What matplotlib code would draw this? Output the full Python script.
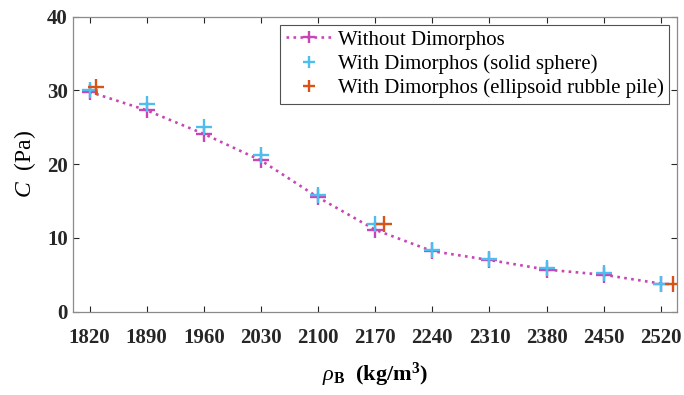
import numpy as np
import matplotlib
matplotlib.use("Agg")
import matplotlib.pyplot as plt

plt.rcParams['font.family'] = ['Liberation Serif', 'DejaVu Serif']
plt.rcParams['mathtext.fontset'] = 'custom'
plt.rcParams['mathtext.rm'] = 'Liberation Serif'
plt.rcParams['mathtext.it'] = 'Liberation Serif:italic'
plt.rcParams['mathtext.bf'] = 'Liberation Serif:bold'

# densite de Didymos (kg/m3)
rho = [1820, 1890, 1960, 2030, 2100, 2170, 2240, 2310, 2380, 2450, 2520]
# cohesion sans Dimorphos (Pa)
C_sans = [29.8, 27.3, 24.1, 20.5, 15.5, 11.1, 8.2, 7.0, 5.7, 5.0, 3.8]
# avec Dimorphos, sphere solide
C_sphere = [30.1, 28.1, 25.0, 21.3, 15.8, 11.95, 8.3, 7.1, 5.9, 5.2, 3.8]
# avec Dimorphos, ellipsoide
rho_ell = [1828, 2181, 2535]
C_ell = [30.5, 11.95, 3.8]

fig = plt.figure(figsize=(6.84, 3.95), dpi=100)
ax = fig.add_axes([0.107, 0.211, 0.883, 0.747])

ax.plot(rho, C_sans, ':', color='#C845B6', lw=1.9, marker='+', ms=11, mew=1.7,
        label='Without Dimorphos')
ax.plot(rho, C_sphere, ls='none', color='#4DBEEE', marker='+', ms=11, mew=1.7,
        label='With Dimorphos (solid sphere)')
ax.plot(rho_ell, C_ell, ls='none', color='#D95319', marker='+', ms=11, mew=1.7,
        label='With Dimorphos (ellipsoid rubble pile)')

ax.set_xlim(1800, 2540)
ax.set_ylim(0, 40)
ax.set_xticks(rho)
ax.set_yticks([0, 10, 20, 30, 40])
ax.tick_params(direction='in', top=True, right=True, length=4, width=0.8,
               colors='#262626', labelsize=15)
ax.tick_params(axis='x', pad=12)
ax.tick_params(axis='y', pad=4)
for lab in ax.get_xticklabels() + ax.get_yticklabels():
    lab.set_fontweight('bold')
for s in ax.spines.values():
    s.set_color('#8a8a8a')
    s.set_linewidth(0.9)

ax.set_xlabel(r'$\rho_{\mathbf{B}}$  (kg/m$^\mathbf{3}$)', fontsize=16, fontweight='bold',
              labelpad=9)
ax.set_ylabel(r'$C$  (Pa)', fontsize=17, labelpad=6)

leg = ax.legend(loc='upper right', fontsize=15, frameon=True, fancybox=False,
                handlelength=2.2, borderpad=0.25, labelspacing=0.22,
                handletextpad=0.3, borderaxespad=0.4, markerscale=0.75)
leg.get_frame().set_edgecolor('#262626')
leg.get_frame().set_linewidth(0.8)

fig.savefig('out.png', dpi=100)
